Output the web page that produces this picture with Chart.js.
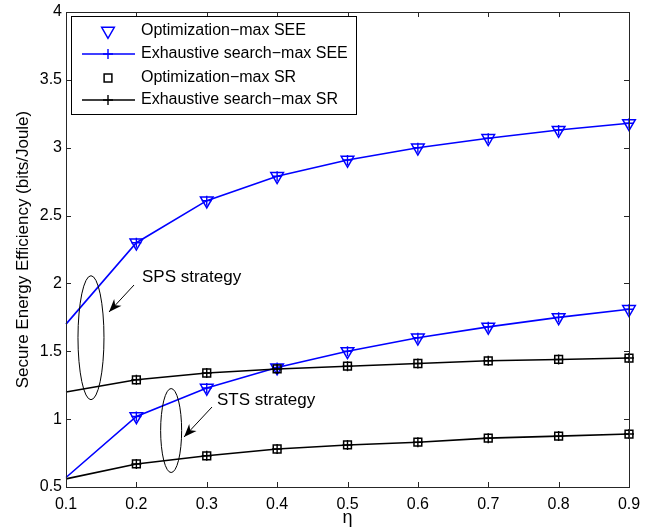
<!DOCTYPE html>
<html>
<head>
<meta charset="utf-8">
<script src="https://cdn.jsdelivr.net/npm/chart.js@4"></script>
<style>
  html, body { margin: 0; padding: 0; background: #fff; }
  #chartBox { width: 652px; height: 532px; }
</style>
</head>
<body>
<div id="chartBox"><canvas id="seeChart" width="652" height="532"></canvas></div>
<script>
// ============================================================
//  DATA
// ============================================================

const etaValues = [0.1, 0.2, 0.3, 0.4, 0.5, 0.6, 0.7, 0.8, 0.9];

// SPS strategy (upper curves)
const exhaustiveSeeSps = [1.70, 2.30, 2.61, 2.79, 2.91, 3.00, 3.07, 3.13, 3.18];
const optimizationSeeSps = [null, 2.30, 2.61, 2.79, 2.91, 3.00, 3.07, 3.13, 3.18];
const exhaustiveSrSps = [1.20, 1.29, 1.34, 1.37, 1.39, 1.41, 1.43, 1.44, 1.45];
const optimizationSrSps = [null, 1.29, 1.34, 1.37, 1.39, 1.41, 1.43, 1.44, 1.45];

// STS strategy (lower curves)
const exhaustiveSeeSts = [0.57, 1.02, 1.23, 1.38, 1.50, 1.60, 1.68, 1.75, 1.81];
const optimizationSeeSts = [null, 1.02, 1.23, 1.38, 1.50, 1.60, 1.68, 1.75, 1.81];
const exhaustiveSrSts = [0.56, 0.67, 0.73, 0.78, 0.81, 0.83, 0.86, 0.875, 0.89];
const optimizationSrSts = [null, 0.67, 0.73, 0.78, 0.81, 0.83, 0.86, 0.875, 0.89];

const xTicks = [0.1, 0.2, 0.3, 0.4, 0.5, 0.6, 0.7, 0.8, 0.9];
const yTicks = [0.5, 1, 1.5, 2, 2.5, 3, 3.5, 4];

const legendLabels = [
    "Optimization\u2212max SEE",
    "Exhaustive search\u2212max SEE",
    "Optimization\u2212max SR",
    "Exhaustive search\u2212max SR"
];

const BLUE = "#0000ff";
const BLACK = "#000000";
const FONT = "'Liberation Sans', Arial, Helvetica, sans-serif";

// ============================================================
//  HELPERS
// ============================================================

const toPoints = values => values.map((v, i) => ({ x: etaValues[i], y: v }));

function optimizationSet(label, values, color, style, radius, rotation) {
    return {
        label: label,
        data: toPoints(values),
        showLine: false,
        borderColor: color,
        backgroundColor: "rgba(0,0,0,0)",
        pointStyle: style,
        pointRadius: radius,
        pointRotation: rotation,
        pointBorderWidth: 1.5
    };
}

function exhaustiveSet(label, values, color) {
    return {
        label: label,
        data: toPoints(values),
        borderColor: color,
        backgroundColor: color,
        borderWidth: 1.6,
        tension: 0,
        pointStyle: "cross",
        pointRadius: ctx => (ctx.dataIndex === 0 ? 0 : 5),
        pointBorderWidth: 1.4
    };
}

// ============================================================
//  PLUGIN: MATLAB style box, inward ticks, legend, annotations
// ============================================================

const matlabFrame = {
    id: "matlabFrame",
    afterDraw(chart) {
        const ctx = chart.ctx;
        const area = chart.chartArea;
        const xs = chart.scales.x;
        const ys = chart.scales.y;
        const tick = 5;

        ctx.save();
        ctx.strokeStyle = "#262626";
        ctx.lineWidth = 1;

        // box
        ctx.strokeRect(area.left + 0.5, area.top + 0.5, area.right - area.left, area.bottom - area.top);

        // inward ticks on all four sides
        ctx.beginPath();
        xTicks.forEach(v => {
            const px = Math.round(xs.getPixelForValue(v)) + 0.5;
            ctx.moveTo(px, area.bottom);
            ctx.lineTo(px, area.bottom - tick);
            ctx.moveTo(px, area.top);
            ctx.lineTo(px, area.top + tick);
        });
        yTicks.forEach(v => {
            const py = Math.round(ys.getPixelForValue(v)) + 0.5;
            ctx.moveTo(area.left, py);
            ctx.lineTo(area.left + tick, py);
            ctx.moveTo(area.right, py);
            ctx.lineTo(area.right - tick, py);
        });
        ctx.stroke();

        // annotations: ellipses, arrows, labels
        ctx.strokeStyle = BLACK;
        ctx.lineWidth = 1;
        const ellipse = (cx, cy, rx, ry) => {
            ctx.beginPath();
            ctx.ellipse(xs.getPixelForValue(cx), ys.getPixelForValue(cy), rx, ry, 0, 0, Math.PI * 2);
            ctx.stroke();
        };
        ellipse(0.1355, 1.60, 13, 62);
        ellipse(0.2494, 0.916, 10.5, 42);

        const arrow = (x1, y1, x2, y2) => {
            ctx.beginPath();
            ctx.moveTo(x1, y1);
            ctx.lineTo(x2, y2);
            ctx.stroke();
            const ang = Math.atan2(y2 - y1, x2 - x1);
            const len = 13, wid = 5;
            const c = Math.cos(ang), s = Math.sin(ang);
            ctx.beginPath();
            ctx.moveTo(x2, y2);
            ctx.lineTo(x2 - len * c + wid * s, y2 - len * s - wid * c);
            ctx.lineTo(x2 - len * c * 0.7, y2 - len * s * 0.7);
            ctx.lineTo(x2 - len * c - wid * s, y2 - len * s + wid * c);
            ctx.closePath();
            ctx.fillStyle = BLACK;
            ctx.fill();
        };
        arrow(134, 285, 109, 312);
        arrow(212, 407, 184, 437);

        ctx.fillStyle = BLACK;
        ctx.font = "17px " + FONT;
        ctx.textBaseline = "middle";
        ctx.textAlign = "left";
        ctx.fillText("SPS strategy", 142, 277);
        ctx.fillText("STS strategy", 217, 400);

        // legend (first four datasets)
        const lx = 71, ly = 16, lw = 285, lh = 98;
        ctx.fillStyle = "#fff";
        ctx.fillRect(lx, ly, lw, lh);
        ctx.strokeStyle = BLACK;
        ctx.lineWidth = 1;
        ctx.strokeRect(lx + 0.5, ly + 0.5, lw, lh);

        const rows = [31, 54, 78, 100];
        ctx.font = "16px " + FONT;
        chart.data.datasets.slice(0, 4).forEach((ds, i) => {
            const y = rows[i];
            const mx = 108;
            ctx.strokeStyle = ds.borderColor;
            if (ds.showLine === false) {
                ctx.lineWidth = 1.5;
                ctx.fillStyle = "rgba(0,0,0,0)";
                Chart.helpers.drawPoint(ctx, { pointStyle: ds.pointStyle, radius: ds.pointRadius, rotation: ds.pointRotation, borderWidth: 1.5 }, mx, y);
            } else {
                ctx.lineWidth = 1.6;
                ctx.beginPath();
                ctx.moveTo(82, y);
                ctx.lineTo(135, y);
                ctx.stroke();
                ctx.lineWidth = 1.4;
                Chart.helpers.drawPoint(ctx, { pointStyle: "cross", radius: 5, rotation: 0, borderWidth: 1.4 }, mx, y);
            }
            ctx.fillStyle = BLACK;
            ctx.fillText(ds.label, 141, y);
        });

        ctx.restore();
    }
};

// ============================================================
//  CHART
// ============================================================

const datasets = [
    optimizationSet(legendLabels[0], optimizationSeeSps, BLUE, "triangle", 7.3, 180),
    exhaustiveSet(legendLabels[1], exhaustiveSeeSps, BLUE),
    optimizationSet(legendLabels[2], optimizationSrSps, BLACK, "rect", 5.5, 0),
    exhaustiveSet(legendLabels[3], exhaustiveSrSps, BLACK),
    optimizationSet(legendLabels[0], optimizationSeeSts, BLUE, "triangle", 7.3, 180),
    exhaustiveSet(legendLabels[1], exhaustiveSeeSts, BLUE),
    optimizationSet(legendLabels[2], optimizationSrSts, BLACK, "rect", 5.5, 0),
    exhaustiveSet(legendLabels[3], exhaustiveSrSts, BLACK)
];

Chart.defaults.font.family = FONT;
Chart.defaults.color = BLACK;

new Chart(document.getElementById("seeChart"), {
    type: "line",
    data: { datasets: datasets },
    options: {
        responsive: false,
        animation: false,
        clip: false,
        layout: { padding: { top: 12, right: 23, left: 0, bottom: 0 } },
        plugins: {
            legend: { display: false },
            tooltip: { enabled: false }
        },
        scales: {
            x: {
                type: "linear",
                min: 0.1,
                max: 0.9,
                grid: { display: false, drawTicks: false },
                border: { display: false },
                afterBuildTicks: axis => { axis.ticks = xTicks.map(v => ({ value: v })); },
                ticks: {
                    padding: 8,
                    font: { size: 16 },
                    maxRotation: 0,
                    callback: v => v.toFixed(1)
                },
                title: {
                    display: true,
                    text: "\u03b7",
                    font: { size: 18 },
                    padding: { top: 0, bottom: 3 }
                },
                afterFit: axis => {
                    axis.height = 45;
                    axis.paddingLeft = 0;
                    axis.paddingRight = 0;
                }
            },
            y: {
                type: "linear",
                min: 0.5,
                max: 4,
                grid: { display: false, drawTicks: false },
                border: { display: false },
                afterBuildTicks: axis => { axis.ticks = yTicks.map(v => ({ value: v })); },
                ticks: {
                    padding: 4,
                    font: { size: 16 },
                    callback: v => String(v)
                },
                title: {
                    display: true,
                    text: "Secure Energy Efficiency (bits/Joule)",
                    font: { size: 17 },
                    padding: { top: 13, bottom: 0 }
                },
                afterFit: axis => {
                    axis.width = 66;
                    axis.paddingTop = 0;
                    axis.paddingBottom = 0;
                }
            }
        }
    },
    plugins: [matlabFrame]
});
</script>
</body>
</html>
